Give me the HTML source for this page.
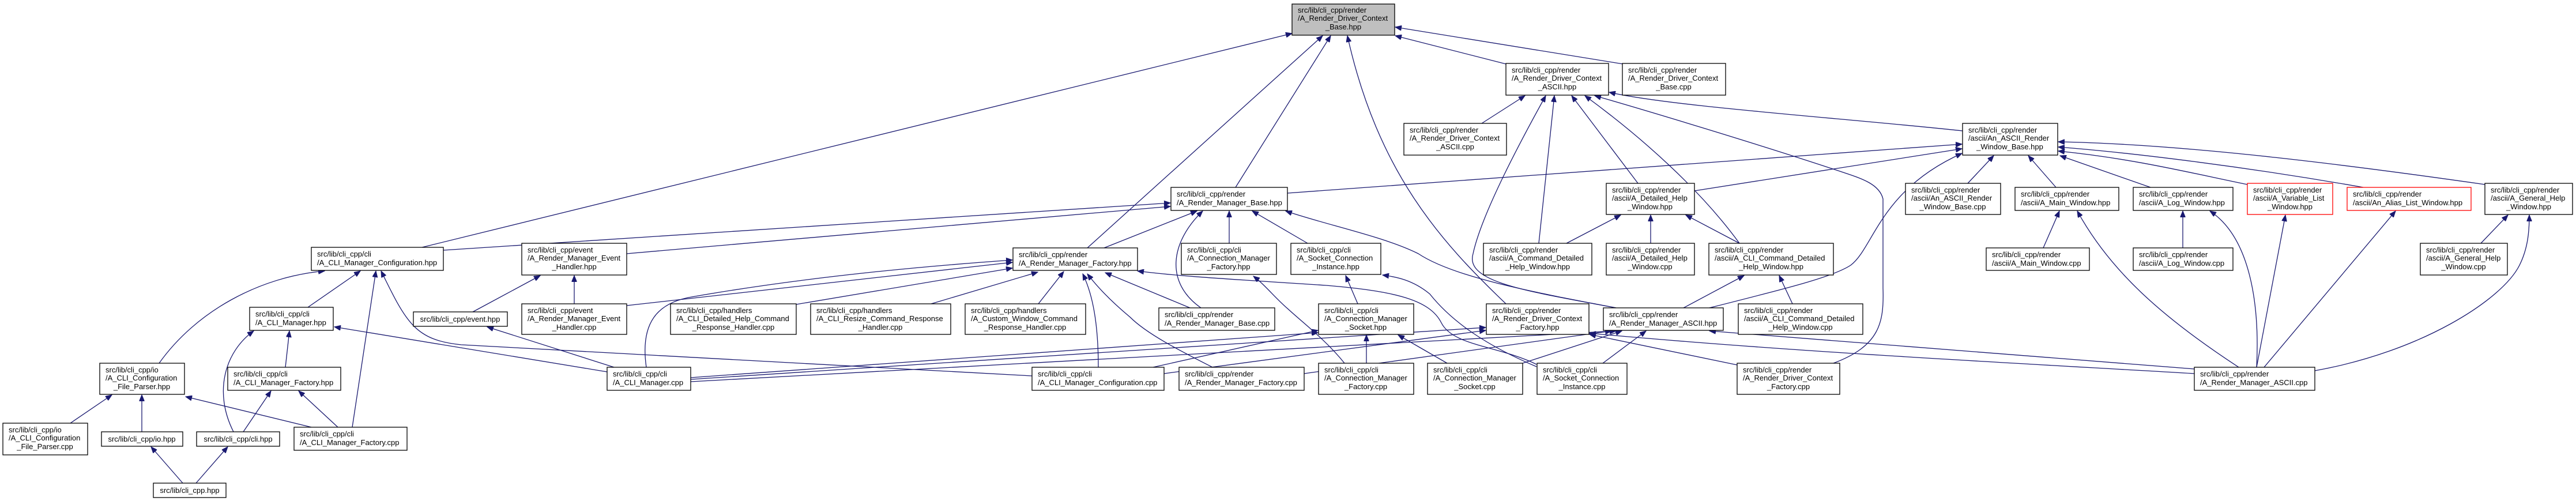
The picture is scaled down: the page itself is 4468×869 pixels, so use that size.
<!DOCTYPE html>
<html><head><meta charset="utf-8"><style>
html,body{margin:0;padding:0;background:#fff;}
svg{display:block;}
text{font-family:"Liberation Sans",Arial,sans-serif;font-size:13px;fill:#000;}
.b{fill:#fff;stroke:#000;stroke-width:1.3;}
.r{fill:#fff;stroke:#f00;stroke-width:1.3;}
.g{fill:#bfbfbf;stroke:#000;stroke-width:1.3;}
.e{fill:none;stroke:#191970;stroke-width:1.3;marker-end:url(#a);}
.m{text-anchor:middle;}
</style></head><body>
<svg width="4468" height="869" viewBox="0 0 4468 869" xmlns="http://www.w3.org/2000/svg">
<defs><marker id="a" markerUnits="userSpaceOnUse" markerWidth="12" markerHeight="9" refX="11" refY="4.5" orient="auto"><path d="M0,0 L11,4.5 L0,9 z" fill="#191970" stroke="#191970"/></marker></defs>

<!-- edges -->
<path class="e" d="M732,429 L2241,58"/>
<path class="e" d="M1886,430 L2294,62"/>
<path class="e" d="M2143,325 L2308,62"/>
<path class="e" d="M2612,111 L2420,62"/>
<path class="e" d="M2815,111 L2420,47"/>
<path class="e" d="M2612,527 C2500,420 2390,300 2337,62"/>
<path class="e" d="M2570,214 L2645,166"/>
<path class="e" d="M2669,422 L2696,166"/>
<path class="e" d="M2841,318 L2726,166"/>
<path class="e" d="M3017,422 C2950,330 2850,240 2749,166"/>
<path class="e" d="M2803,534 C2650,505 2540,490 2555,440 C2570,370 2640,240 2681,166"/>
<path class="e" d="M3180,630 C3260,600 3268,560 3266,500 L3266,345 C3260,320 3230,310 3200,300 C3050,250 2850,190 2766,166"/>
<path class="e" d="M3404,227 C3200,205 2900,185 2791,160"/>
<path class="e" d="M2717,422 L2811,373"/>
<path class="e" d="M2863,422 L2863,373"/>
<path class="e" d="M3017,422 L2924,373"/>
<path class="e" d="M2939,331 L3403,258"/>
<path class="e" d="M2920,534 L3025,478"/>
<path class="e" d="M3109,527 L3086,478"/>
<path class="e" d="M2965,534 C3100,500 3180,480 3210,460 C3250,430 3260,330 3403,266"/>
<path class="e" d="M2641,630 L2813,574"/>
<path class="e" d="M2780,630 L2855,574"/>
<path class="e" d="M1198,662 L2803,574"/>
<path class="e" d="M3806,640 L2965,574"/>
<path class="e" d="M3013,633 L2757,580"/>
<path class="e" d="M3806,648 C3500,630 3100,610 2757,578"/>
<path class="e" d="M1198,658 L2577,568"/>
<path class="e" d="M2019,648 L2577,573"/>
<path class="e" d="M2262,648 L2795,574"/>
<path class="e" d="M3413,318 L3458,270"/>
<path class="e" d="M3566,325 L3518,270"/>
<path class="e" d="M3730,325 L3573,270"/>
<path class="e" d="M3898,320 C3800,300 3700,275 3570,262"/>
<path class="e" d="M4099,325 C3900,290 3700,265 3570,255"/>
<path class="e" d="M4310,320 C4100,290 3800,250 3570,246"/>
<path class="e" d="M2233,335 L3403,250"/>
<path class="e" d="M3544,430 L3572,366"/>
<path class="e" d="M3883,637 C3750,550 3660,470 3603,366"/>
<path class="e" d="M3786,430 L3786,366"/>
<path class="e" d="M3914,637 C3920,520 3900,410 3833,366"/>
<path class="e" d="M3914,637 L3964,373"/>
<path class="e" d="M3927,637 L4155,366"/>
<path class="e" d="M4303,422 L4350,373"/>
<path class="e" d="M4015,643 C4200,610 4340,520 4370,460 C4385,430 4387,400 4387,373"/>
<path class="e" d="M769,434 L2030,352"/>
<path class="e" d="M1087,440 L2030,358"/>
<path class="e" d="M1915,430 L2076,366"/>
<path class="e" d="M2083,534 C2020,490 2030,420 2086,366"/>
<path class="e" d="M2132,422 L2132,366"/>
<path class="e" d="M2268,422 L2172,366"/>
<path class="e" d="M2803,534 C2650,505 2520,480 2460,440 C2400,410 2300,390 2230,366"/>
<path class="e" d="M1087,530 L1756,455"/>
<path class="e" d="M1121,637 C1110,560 1140,525 1200,515 C1400,480 1600,462 1756,451"/>
<path class="e" d="M1381,528 L1756,465"/>
<path class="e" d="M1615,527 L1800,472"/>
<path class="e" d="M1801,527 L1845,471"/>
<path class="e" d="M1905,637 C1905,560 1895,510 1878,475"/>
<path class="e" d="M2103,637 C2050,610 1990,580 1960,550 C1930,525 1905,500 1886,475"/>
<path class="e" d="M2064,534 L1917,473"/>
<path class="e" d="M2665,632 C2600,600 2520,600 2500,560 C2480,520 2420,505 2300,495 C2150,485 2050,480 1973,470"/>
<path class="e" d="M534,533 L625,470"/>
<path class="e" d="M276,630 C340,540 450,480 563,470"/>
<path class="e" d="M611,741 L652,470"/>
<path class="e" d="M1790,652 L800,598 C720,590 705,560 661,470"/>
<path class="e" d="M495,637 L502,574"/>
<path class="e" d="M405,749 C370,680 390,610 440,574"/>
<path class="e" d="M1053,645 L580,567"/>
<path class="e" d="M122,734 L194,685"/>
<path class="e" d="M246,749 L246,685"/>
<path class="e" d="M540,741 L322,688"/>
<path class="e" d="M422,749 L470,678"/>
<path class="e" d="M586,741 L518,678"/>
<path class="e" d="M317,838 L262,775"/>
<path class="e" d="M340,838 L395,775"/>
<path class="e" d="M1065,637 L845,567"/>
<path class="e" d="M820,541 L937,478"/>
<path class="e" d="M996,527 L996,478"/>
<path class="e" d="M2332,630 C2300,590 2260,560 2233,535 C2210,515 2195,495 2174,479"/>
<path class="e" d="M2355,527 L2334,478"/>
<path class="e" d="M2665,636 C2580,600 2520,560 2480,510 C2450,485 2420,480 2398,477"/>
<path class="e" d="M2370,630 L2370,581"/>
<path class="e" d="M2510,630 L2425,581"/>
<path class="e" d="M2000,637 L2286,573"/>
<path class="e" d="M1198,655 L2286,577"/>

<!-- nodes -->
<rect class="g" x="2241" y="7" width="178" height="54"/>
<text x="2251" y="22">src/lib/cli_cpp/render</text><text x="2251" y="36">/A_Render_Driver_Context</text><text class="m" x="2330" y="51">_Base.hpp</text>

<rect class="b" x="2612" y="110" width="178" height="55"/>
<text x="2622" y="126">src/lib/cli_cpp/render</text><text x="2622" y="140">/A_Render_Driver_Context</text><text class="m" x="2701" y="155">_ASCII.hpp</text>
<rect class="b" x="2814" y="110" width="179" height="55"/>
<text x="2824" y="126">src/lib/cli_cpp/render</text><text x="2824" y="140">/A_Render_Driver_Context</text><text class="m" x="2903" y="155">_Base.cpp</text>
<rect class="b" x="2435" y="214" width="178" height="55"/>
<text x="2445" y="230">src/lib/cli_cpp/render</text><text x="2445" y="244">/A_Render_Driver_Context</text><text class="m" x="2524" y="259">_ASCII.cpp</text>

<rect class="b" x="3404" y="214" width="165" height="55"/>
<text x="3414" y="230">src/lib/cli_cpp/render</text><text x="3414" y="244">/ascii/An_ASCII_Render</text><text class="m" x="3486" y="259">_Window_Base.hpp</text>
<rect class="b" x="3305" y="318" width="165" height="54"/>
<text x="3315" y="334">src/lib/cli_cpp/render</text><text x="3315" y="348">/ascii/An_ASCII_Render</text><text class="m" x="3387" y="363">_Window_Base.cpp</text>
<rect class="b" x="3495" y="325" width="180" height="40"/>
<text x="3505" y="341">src/lib/cli_cpp/render</text><text x="3505" y="356">/ascii/A_Main_Window.hpp</text>
<rect class="b" x="3700" y="325" width="173" height="40"/>
<text x="3710" y="341">src/lib/cli_cpp/render</text><text x="3710" y="356">/ascii/A_Log_Window.hpp</text>
<rect class="r" x="3898" y="318" width="148" height="54"/>
<text x="3908" y="334">src/lib/cli_cpp/render</text><text x="3908" y="348">/ascii/A_Variable_List</text><text class="m" x="3972" y="363">_Window.hpp</text>
<rect class="r" x="4071" y="325" width="215" height="40"/>
<text x="4081" y="341">src/lib/cli_cpp/render</text><text x="4081" y="356">/ascii/An_Alias_List_Window.hpp</text>
<rect class="b" x="4310" y="318" width="152" height="54"/>
<text x="4320" y="334">src/lib/cli_cpp/render</text><text x="4320" y="348">/ascii/A_General_Help</text><text class="m" x="4386" y="363">_Window.hpp</text>
<rect class="b" x="4198" y="422" width="151" height="55"/>
<text x="4208" y="438">src/lib/cli_cpp/render</text><text x="4208" y="452">/ascii/A_General_Help</text><text class="m" x="4273" y="467">_Window.cpp</text>
<rect class="b" x="3445" y="430" width="179" height="39"/>
<text x="3455" y="446">src/lib/cli_cpp/render</text><text x="3455" y="461">/ascii/A_Main_Window.cpp</text>
<rect class="b" x="3700" y="430" width="173" height="39"/>
<text x="3710" y="446">src/lib/cli_cpp/render</text><text x="3710" y="461">/ascii/A_Log_Window.cpp</text>
<rect class="b" x="3806" y="637" width="209" height="40"/>
<text x="3816" y="653">src/lib/cli_cpp/render</text><text x="3816" y="668">/A_Render_Manager_ASCII.cpp</text>

<rect class="b" x="2786" y="318" width="153" height="54"/>
<text x="2796" y="334">src/lib/cli_cpp/render</text><text x="2796" y="348">/ascii/A_Detailed_Help</text><text class="m" x="2862" y="363">_Window.hpp</text>
<rect class="b" x="2573" y="422" width="188" height="55"/>
<text x="2583" y="438">src/lib/cli_cpp/render</text><text x="2583" y="452">/ascii/A_Command_Detailed</text><text class="m" x="2667" y="467">_Help_Window.hpp</text>
<rect class="b" x="2786" y="422" width="153" height="55"/>
<text x="2796" y="438">src/lib/cli_cpp/render</text><text x="2796" y="452">/ascii/A_Detailed_Help</text><text class="m" x="2862" y="467">_Window.cpp</text>
<rect class="b" x="2964" y="422" width="216" height="55"/>
<text x="2974" y="438">src/lib/cli_cpp/render</text><text x="2974" y="452">/ascii/A_CLI_Command_Detailed</text><text class="m" x="3072" y="467">_Help_Window.hpp</text>
<rect class="b" x="3015" y="527" width="216" height="53"/>
<text x="3025" y="543">src/lib/cli_cpp/render</text><text x="3025" y="557">/ascii/A_CLI_Command_Detailed</text><text class="m" x="3123" y="572">_Help_Window.cpp</text>
<rect class="b" x="2578" y="527" width="178" height="53"/>
<text x="2588" y="543">src/lib/cli_cpp/render</text><text x="2588" y="557">/A_Render_Driver_Context</text><text class="m" x="2667" y="572">_Factory.hpp</text>
<rect class="b" x="2781" y="534" width="208" height="39"/>
<text x="2791" y="550">src/lib/cli_cpp/render</text><text x="2791" y="565">/A_Render_Manager_ASCII.hpp</text>
<rect class="b" x="2476" y="630" width="165" height="54"/>
<text x="2486" y="646">src/lib/cli_cpp/cli</text><text x="2486" y="660">/A_Connection_Manager</text><text class="m" x="2558" y="675">_Socket.cpp</text>
<rect class="b" x="2666" y="630" width="156" height="54"/>
<text x="2676" y="646">src/lib/cli_cpp/cli</text><text x="2676" y="660">/A_Socket_Connection</text><text class="m" x="2744" y="675">_Instance.cpp</text>
<rect class="b" x="3013" y="630" width="178" height="54"/>
<text x="3023" y="646">src/lib/cli_cpp/render</text><text x="3023" y="660">/A_Render_Driver_Context</text><text class="m" x="3102" y="675">_Factory.cpp</text>

<rect class="b" x="2031" y="325" width="202" height="40"/>
<text x="2041" y="341">src/lib/cli_cpp/render</text><text x="2041" y="356">/A_Render_Manager_Base.hpp</text>
<rect class="b" x="1757" y="430" width="216" height="39"/>
<text x="1767" y="446">src/lib/cli_cpp/render</text><text x="1767" y="461">/A_Render_Manager_Factory.hpp</text>
<rect class="b" x="2049" y="422" width="165" height="54"/>
<text x="2059" y="438">src/lib/cli_cpp/cli</text><text x="2059" y="452">/A_Connection_Manager</text><text class="m" x="2131" y="467">_Factory.hpp</text>
<rect class="b" x="2239" y="422" width="156" height="54"/>
<text x="2249" y="438">src/lib/cli_cpp/cli</text><text x="2249" y="452">/A_Socket_Connection</text><text class="m" x="2317" y="467">_Instance.hpp</text>
<rect class="b" x="1674" y="527" width="209" height="53"/>
<text x="1684" y="543">src/lib/cli_cpp/handlers</text><text x="1684" y="557">/A_Custom_Window_Command</text><text class="m" x="1778" y="572">_Response_Handler.cpp</text>
<rect class="b" x="2010" y="534" width="201" height="39"/>
<text x="2020" y="550">src/lib/cli_cpp/render</text><text x="2020" y="565">/A_Render_Manager_Base.cpp</text>
<rect class="b" x="2287" y="527" width="165" height="53"/>
<text x="2297" y="543">src/lib/cli_cpp/cli</text><text x="2297" y="557">/A_Connection_Manager</text><text class="m" x="2369" y="572">_Socket.hpp</text>
<rect class="b" x="1790" y="637" width="229" height="40"/>
<text x="1800" y="653">src/lib/cli_cpp/cli</text><text x="1800" y="668">/A_CLI_Manager_Configuration.cpp</text>
<rect class="b" x="2045" y="637" width="217" height="40"/>
<text x="2055" y="653">src/lib/cli_cpp/render</text><text x="2055" y="668">/A_Render_Manager_Factory.cpp</text>
<rect class="b" x="2287" y="630" width="165" height="54"/>
<text x="2297" y="646">src/lib/cli_cpp/cli</text><text x="2297" y="660">/A_Connection_Manager</text><text class="m" x="2369" y="675">_Factory.cpp</text>

<rect class="b" x="717" y="541" width="163" height="25"/>
<text class="m" x="798" y="558">src/lib/cli_cpp/event.hpp</text>
<rect class="b" x="905" y="422" width="182" height="55"/>
<text x="915" y="438">src/lib/cli_cpp/event</text><text x="915" y="452">/A_Render_Manager_Event</text><text class="m" x="996" y="467">_Handler.hpp</text>
<rect class="b" x="905" y="527" width="182" height="53"/>
<text x="915" y="543">src/lib/cli_cpp/event</text><text x="915" y="557">/A_Render_Manager_Event</text><text class="m" x="996" y="572">_Handler.cpp</text>
<rect class="b" x="1163" y="527" width="218" height="53"/>
<text x="1173" y="543">src/lib/cli_cpp/handlers</text><text x="1173" y="557">/A_CLI_Detailed_Help_Command</text><text class="m" x="1272" y="572">_Response_Handler.cpp</text>
<rect class="b" x="1406" y="527" width="243" height="53"/>
<text x="1416" y="543">src/lib/cli_cpp/handlers</text><text x="1416" y="557">/A_CLI_Resize_Command_Response</text><text class="m" x="1527" y="572">_Handler.cpp</text>
<rect class="b" x="1053" y="637" width="145" height="40"/>
<text x="1063" y="653">src/lib/cli_cpp/cli</text><text x="1063" y="668">/A_CLI_Manager.cpp</text>

<rect class="b" x="540" y="429" width="229" height="40"/>
<text x="550" y="445">src/lib/cli_cpp/cli</text><text x="550" y="460">/A_CLI_Manager_Configuration.hpp</text>
<rect class="b" x="433" y="533" width="145" height="40"/>
<text x="443" y="549">src/lib/cli_cpp/cli</text><text x="443" y="564">/A_CLI_Manager.hpp</text>
<rect class="b" x="173" y="630" width="147" height="54"/>
<text x="183" y="646">src/lib/cli_cpp/io</text><text x="183" y="660">/A_CLI_Configuration</text><text class="m" x="246" y="675">_File_Parser.hpp</text>
<rect class="b" x="395" y="637" width="196" height="40"/>
<text x="405" y="653">src/lib/cli_cpp/cli</text><text x="405" y="668">/A_CLI_Manager_Factory.hpp</text>
<rect class="b" x="5" y="734" width="147" height="55"/>
<text x="15" y="750">src/lib/cli_cpp/io</text><text x="15" y="764">/A_CLI_Configuration</text><text class="m" x="78" y="779">_File_Parser.cpp</text>
<rect class="b" x="176" y="749" width="141" height="25"/>
<text class="m" x="246" y="766">src/lib/cli_cpp/io.hpp</text>
<rect class="b" x="341" y="749" width="144" height="25"/>
<text class="m" x="413" y="766">src/lib/cli_cpp/cli.hpp</text>
<rect class="b" x="510" y="741" width="196" height="40"/>
<text x="520" y="757">src/lib/cli_cpp/cli</text><text x="520" y="772">/A_CLI_Manager_Factory.cpp</text>
<rect class="b" x="266" y="838" width="126" height="25"/>
<text class="m" x="329" y="855">src/lib/cli_cpp.hpp</text>
</svg>
</body></html>
